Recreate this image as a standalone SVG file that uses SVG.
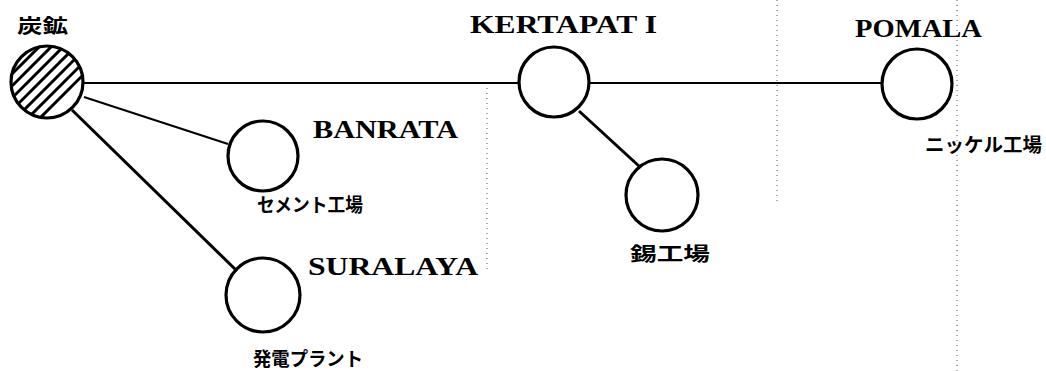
<svg xmlns="http://www.w3.org/2000/svg" width="1046" height="371" viewBox="0 0 1046 371">
<style>
.node{fill:none;stroke:#000;stroke-width:3.2}
.lat{font-family:"Liberation Serif","DejaVu Serif",serif;font-weight:bold;font-size:26px;fill:#000}
.jp{font-family:"Noto Sans CJK JP",sans-serif;font-weight:bold;font-size:19px;fill:#000}
.con{stroke:#000;fill:none}
.dot{stroke:#555;stroke-width:1;stroke-dasharray:1 4;fill:none}
</style>
<defs>
<clipPath id="cl"><circle cx="47" cy="82" r="36"/></clipPath>
</defs>
<rect width="1046" height="371" fill="#fff"/>
<g id="scan-dots">
<line class="dot" x1="487" y1="88" x2="487" y2="272"/>
<line class="dot" x1="777" y1="0" x2="777" y2="205"/>
<line class="dot" x1="957" y1="0" x2="957" y2="371"/>
</g>
<g id="connectors">
<line class="con" stroke-width="1.8" x1="84" y1="83" x2="519" y2="83"/>
<line class="con" stroke-width="1.8" x1="590" y1="83" x2="881" y2="83"/>
<line class="con" stroke-width="2" x1="84" y1="97" x2="228" y2="144"/>
<line class="con" stroke-width="3" x1="72" y1="110" x2="237" y2="271"/>
<line class="con" stroke-width="3" x1="579" y1="111" x2="640" y2="167"/>
</g>
<g id="n-mine">
<g clip-path="url(#cl)" stroke="#000" stroke-width="3">
<line x1="-40" y1="90" x2="90" y2="-40"/>
<line x1="-40" y1="102" x2="102" y2="-40"/>
<line x1="-40" y1="114" x2="114" y2="-40"/>
<line x1="-40" y1="126" x2="126" y2="-40"/>
<line x1="-40" y1="138" x2="138" y2="-40"/>
<line x1="-40" y1="150" x2="150" y2="-40"/>
<line x1="-40" y1="162" x2="162" y2="-40"/>
<line x1="-40" y1="174" x2="174" y2="-40"/>
<line x1="-40" y1="186" x2="186" y2="-40"/>
<line x1="-40" y1="198" x2="198" y2="-40"/>
</g>
<circle class="node" cx="47" cy="82" r="36"/>
<text class="jp" x="17" y="33" font-size="23" textLength="51" lengthAdjust="spacingAndGlyphs">炭鉱</text>
</g>
<g id="n-banrata">
<circle class="node" cx="263" cy="156" r="35"/>
<text class="lat" x="313" y="138" textLength="145" lengthAdjust="spacingAndGlyphs">BANRATA</text>
<text class="jp" x="257" y="212" textLength="106" lengthAdjust="spacingAndGlyphs">セメント工場</text>
</g>
<g id="n-suralaya">
<circle class="node" cx="263" cy="295" r="37"/>
<text class="lat" x="308" y="275" textLength="170" lengthAdjust="spacingAndGlyphs">SURALAYA</text>
<text class="jp" x="253" y="366" textLength="110" lengthAdjust="spacingAndGlyphs">発電プラント</text>
</g>
<g id="n-kertapati">
<circle class="node" cx="554" cy="82" r="35"/>
<text class="lat" x="470" y="33" textLength="187" lengthAdjust="spacingAndGlyphs">KERTAPAT I</text>
</g>
<g id="n-tin">
<circle class="node" cx="662" cy="195" r="36"/>
<text class="jp" x="630" y="261" font-size="24" textLength="80" lengthAdjust="spacingAndGlyphs">錫工場</text>
</g>
<g id="n-pomala">
<circle class="node" cx="917" cy="84" r="35"/>
<text class="lat" x="855" y="37" textLength="127" lengthAdjust="spacingAndGlyphs">POMALA</text>
<text class="jp" x="925" y="152" textLength="117" lengthAdjust="spacingAndGlyphs">ニッケル工場</text>
</g>
</svg>
